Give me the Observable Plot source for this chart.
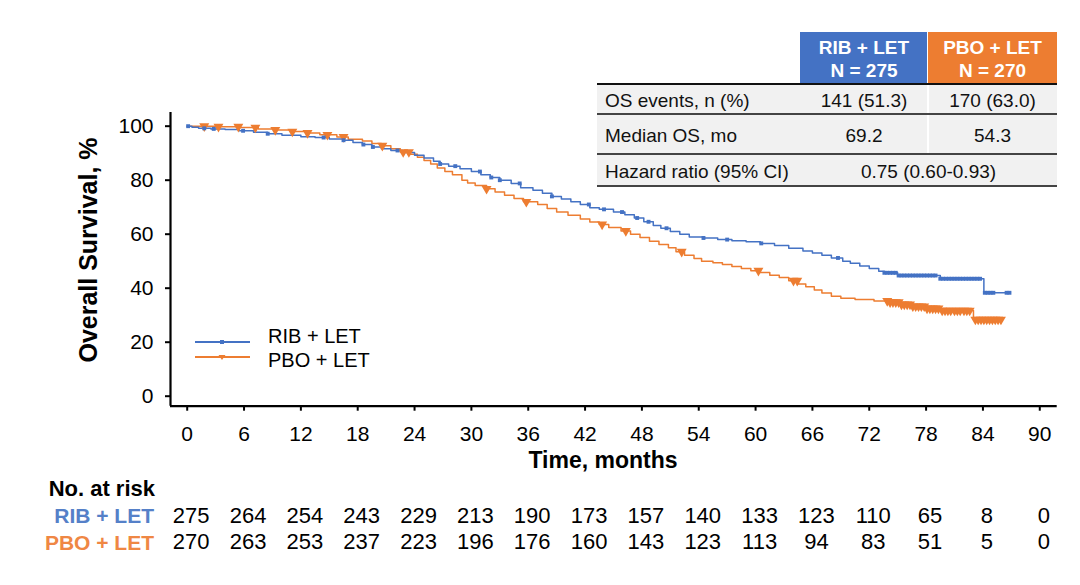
<!DOCTYPE html>
<html><head><meta charset="utf-8">
<script src="https://cdn.jsdelivr.net/npm/d3@7"></script>
<script src="https://cdn.jsdelivr.net/npm/@observablehq/plot@0.6"></script>
<style>
body{margin:0;background:#fff;font-family:"Liberation Sans",Arial,Helvetica,sans-serif;color:#000}
#wrap{position:relative;width:1080px;height:585px;overflow:hidden}
#chart{position:absolute;left:0;top:0}
.abs{position:absolute;white-space:nowrap;line-height:1}
.c{transform:translate(-50%,-50%)}
.r{transform:translate(-100%,-50%)}
.l{transform:translate(0,-50%)}
</style></head>
<body><div id="wrap"><div id="chart"></div></div>
<script>
// ---- data ----
const seriesNames = ["RIB + LET", "PBO + LET"];
const seriesN = [275, 270];
const ribTime = [0,0.5,1.2,2.5,4,5.5,7,8.5,10,12,13.5,15,16.5,17.5,18.5,19.5,20.5,21.5,22.8,24,25,26,26.7,27.6,28.8,30,31,32,33,34.2,35.2,36.5,37.5,38.5,39.5,40.5,41.5,42.5,43.5,45,46.2,47.2,48.2,49.2,50,51,52,53,54.5,56,57.5,59,60.5,62,63.5,65,66,67,68,69.2,70,71,72,73,73.6,75,79.5,84.1,86.9];
const ribSurv = [100,99.6,99.2,99,98.8,98.3,97.8,97.2,96.6,96.1,95.8,95.3,94.8,94,93.2,92.3,91.6,91,90.3,89.2,88.2,87,86,85.2,84.2,83.2,82,81,80,78.8,77.2,76.3,75.2,74,73,72,71,69.8,69.2,68.2,67.2,66,64.6,63.2,62.2,61,60,59,58.6,58,57.6,57.2,56.6,55.8,54.8,53.8,53,52.2,51.2,50,49.2,48.2,47.3,46.3,45.7,44.7,43.5,38.3,38.3];
const pboTime = [0,3,5.5,7.5,9.3,11,12.7,14,15.8,17,18.5,19.5,20.5,21.5,22.5,23.5,24.3,25,25.7,26.4,27.2,28,29,29.6,30.4,31.6,32.5,33.5,34.5,35.5,37,38,39,40.2,41.5,42.5,43.5,44.5,45.8,46.8,47.8,48.8,49.8,50.8,51.6,52.5,53.5,54.3,55.5,56.5,57.5,58.5,59.5,60.5,61.5,62.5,63.5,64.5,65.3,66.2,67,68,69,70.5,72.5,74,75.3,76.5,78,79.5,83,86];
const pboSurv = [100,99.8,99.5,99,98.6,98,97.5,96.8,96,95.2,94.5,93.6,92.8,91.6,90.4,89.6,88.5,87.3,86,84.5,83.2,82,80,79,78,76.8,75.6,74.4,73.2,72,71,69.5,68.2,67,65.6,64.5,63.6,62.5,61.2,60,58.8,57.4,56.2,55,53.5,52.2,51,50,49.4,48.8,48,47.3,46.5,45.8,44.8,44,42.8,41.6,40.5,39.3,38.2,37,36.3,35.8,35.3,34.8,34,33.3,32.5,31.7,28.4,28.4];
const ribCensor = [0.1,1.8,2.8,5.9,8.5,14.4,16.5,18.6,19.6,22.2,26.7,28.3,30.9,32.1,33,35.1,38.5,42.4,44,45.9,47.5,48.7,50.6,54.5,57,60.6,68.7,73.6,73.9,74.2,74.5,74.8,75.1,75.4,75.7,76,76.3,76.6,76.9,77.2,77.5,77.8,78.1,78.4,78.7,79,79.5,79.8,80.1,80.4,80.7,81,81.3,81.6,81.9,82.2,82.5,82.8,83.1,83.4,83.7,84.2,84.5,84.8,85.1,86.5,86.8];
const pboCensor = [1.8,3.3,5.4,7.2,9.3,11.1,12.7,14.8,16.5,20.6,22.8,23.4,31.6,35.8,43.8,46.3,52.2,60.3,64,64.4,73.9,74.2,74.5,74.8,75.1,75.4,75.7,76,76.3,76.6,76.9,77.2,77.5,77.8,78.1,78.4,78.7,79,79.3,79.7,80,80.3,80.6,81,81.3,81.6,82,82.3,82.6,83.2,83.5,83.8,84.1,84.4,84.7,85,85.3,85.6,85.9];
const riskMonths = [0,6,12,18,24,30,36,42,48,54,60,66,72,78,84,90];
const ribRisk = [275,264,254,243,229,213,190,173,157,140,133,123,110,65,8,0];
const pboRisk = [270,263,253,237,223,196,176,160,143,123,113,94,83,51,5,0];
const yTicks = [0,20,40,60,80,100];
const tableHeader = ["RIB + LET", "PBO + LET"];
const tableRows = [
  ["OS events, n (%)", "141 (51.3)", "170 (63.0)"],
  ["Median OS, mo", "69.2", "54.3"],
  ["Hazard ratio (95% CI)", "0.75 (0.60-0.93)"]
];
const xLabel = "Time, months";
const yLabel = "Overall Survival, %";
const riskTitle = "No. at risk";

// ---- style ----
const BLUE = "#4472C4", ORANGE = "#ED7D31";
const BLUE_T = "#5580C8", ORANGE_T = "#EF8744";
const FONT = '"Liberation Sans", Arial, Helvetica, sans-serif';
const xDomain = [-1.763, 91.84];
const yDomain = [-3.7, 105.07];

function survAt(times, surv, t) {
  let v = surv[0];
  for (let i = 0; i < times.length; i++) { if (times[i] <= t) v = surv[i]; else break; }
  return v;
}

const chart = Plot.plot({
  width: 1080, height: 585,
  marginTop: 112, marginBottom: 179.3, marginLeft: 170, marginRight: 23.3,
  style: {fontFamily: FONT, fontSize: "20px", color: "#000", background: "transparent", overflow: "visible"},
  x: {domain: xDomain, axis: null},
  y: {domain: yDomain, axis: null},
  marks: [
    Plot.axisY({ticks: yTicks, tickSize: 5, tickPadding: 12, fontSize: 21, strokeWidth: 2, label: null, tickFormat: d => String(d)}),
    Plot.axisX({ticks: riskMonths, tickSize: 5, tickPadding: 15, fontSize: 21, strokeWidth: 2, label: null, tickFormat: d => String(d)}),
    Plot.ruleX([xDomain[0]], {y1: yDomain[0], y2: yDomain[1], stroke: "#000", strokeWidth: 2.2}),
    Plot.ruleY([yDomain[0]], {x1: xDomain[0], x2: xDomain[1], stroke: "#000", strokeWidth: 2.2}),
    Plot.line(pboTime, {x: pboTime, y: pboSurv, curve: "step-after", stroke: ORANGE, strokeWidth: 1.5}),
    Plot.line(ribTime, {x: ribTime, y: ribSurv, curve: "step-after", stroke: BLUE, strokeWidth: 1.5}),
    Plot.dot(pboCensor, {x: d => d, y: d => survAt(pboTime, pboSurv, d), symbol: "triangle", r: 3.7, rotate: 180, fill: ORANGE, stroke: "none"}),
    Plot.dot(ribCensor, {x: d => d, y: d => survAt(ribTime, ribSurv, d), symbol: "square", r: 2.2, fill: BLUE, stroke: "none"}),
    Plot.text(riskMonths, {x: d => d, text: (d, i) => String(ribRisk[i]), frameAnchor: "bottom", dy: 116.3, dx: 4, fontSize: 22, fill: "#000"}),
    Plot.text(riskMonths, {x: d => d, text: (d, i) => String(pboRisk[i]), frameAnchor: "bottom", dy: 143, dx: 4, fontSize: 22, fill: "#000"})
  ]
});
document.getElementById("chart").appendChild(chart);

// ---- overlays ----
const wrap = document.getElementById("wrap");
function addText(txt, x, y, cls, css) {
  const d = document.createElement("div");
  d.className = "abs " + cls;
  d.textContent = txt;
  d.style.left = x + "px"; d.style.top = y + "px";
  Object.assign(d.style, css || {});
  wrap.appendChild(d);
  return d;
}
function addBox(x, y, w, h, bg) {
  const d = document.createElement("div");
  d.style.cssText = `position:absolute;left:${x}px;top:${y}px;width:${w}px;height:${h}px;background:${bg}`;
  wrap.appendChild(d);
}

// axis titles
addText(yLabel, 88, 249.5, "c", {fontSize: "25px", fontWeight: "bold", transform: "translate(-50%,-50%) rotate(-90deg)"});
addText(xLabel, 603, 460, "c", {fontSize: "23px", fontWeight: "bold"});
addText(riskTitle, 155, 488.5, "r", {fontSize: "22px", fontWeight: "bold"});
addText(seriesNames[0], 154, 515, "r", {fontSize: "21px", fontWeight: "bold", color: BLUE_T});
addText(seriesNames[1], 154, 542, "r", {fontSize: "21px", fontWeight: "bold", color: ORANGE_T});

// legend
const leg = document.createElementNS("http://www.w3.org/2000/svg", "svg");
leg.setAttribute("width", "80"); leg.setAttribute("height", "40");
leg.style.cssText = "position:absolute;left:190px;top:330px";
leg.innerHTML = `<line x1="5" x2="60" y1="12" y2="12" stroke="${BLUE}" stroke-width="1.8"/>
<rect x="30" y="10" width="4" height="4" fill="${BLUE}"/>
<line x1="5" x2="60" y1="27" y2="27" stroke="${ORANGE}" stroke-width="1.8"/>
<path d="M28.5,25 L35.5,25 L32,30 Z" fill="${ORANGE}"/>`;
wrap.appendChild(leg);
addText(seriesNames[0], 268, 336, "l", {fontSize: "20px"});
addText(seriesNames[1], 268, 360, "l", {fontSize: "20px"});

// summary table
const colX = [597, 800, 928, 1057];
const rowY = [84, 114, 154, 186];
addBox(800, 32, 127, 51, BLUE);
addBox(928, 32, 129, 51, ORANGE);
[0, 1].forEach(i => {
  const cx = (colX[i + 1] + colX[i + 2]) / 2;
  addText(tableHeader[i], cx, 47, "c", {fontSize: "19px", fontWeight: "bold", color: "#fff"});
  addText("N = " + seriesN[i], cx, 70, "c", {fontSize: "19px", fontWeight: "bold", color: "#fff"});
});
tableRows.forEach((row, r) => {
  const y0 = rowY[r], y1 = rowY[r + 1];
  addBox(colX[0], y0, colX[3] - colX[0], y1 - y0, "#f1f1f1");
  if (row.length === 3) addBox(colX[2] - 1, y0, 1.5, y1 - y0, "#ffffff");
  const cy = (y0 + y1) / 2 + 1;
  addText(row[0], colX[0] + 8, cy, "l", {fontSize: "19px", color: "#111"});
  if (row.length === 3) {
    addText(row[1], (colX[1] + colX[2]) / 2, cy, "c", {fontSize: "19px", color: "#111"});
    addText(row[2], (colX[2] + colX[3]) / 2, cy, "c", {fontSize: "19px", color: "#111"});
  } else {
    addText(row[1], (colX[1] + colX[3]) / 2, cy, "c", {fontSize: "19px", color: "#111"});
  }
});
rowY.forEach((y, i) => addBox(colX[0], y - (i === 0 ? 1 : 0.75), colX[3] - colX[0], i === 0 ? 2 : 1.5, i === 0 ? "#111" : "#444"));
</script>
</body></html>
